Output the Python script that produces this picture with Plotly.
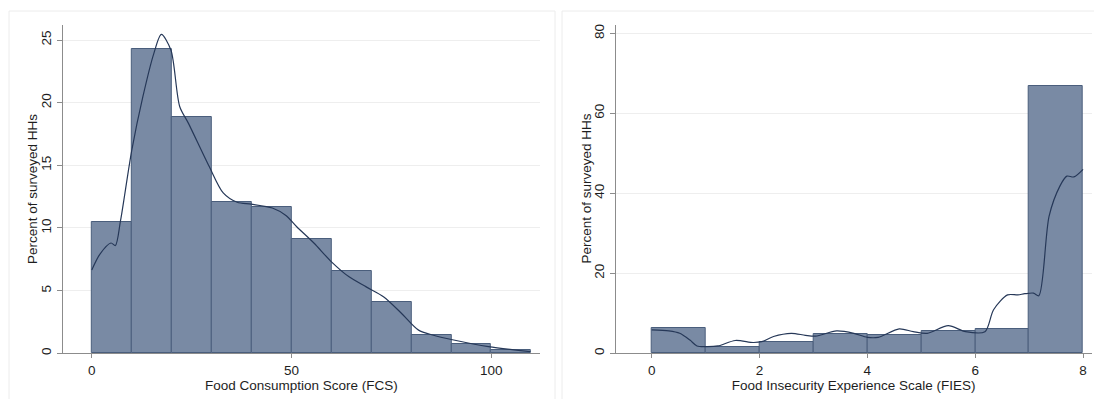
import plotly.graph_objects as go

# ---- Left panel: Food Consumption Score ----
fcs_bin_left = [0, 10, 20, 30, 40, 50, 60, 70, 80, 90, 100]
fcs_bin_width = 10
fcs_percent = [10.45, 24.25, 18.85, 12.05, 11.65, 9.1, 6.55, 4.1, 1.45, 0.75, 0.3]

fcs_kde_x = [0, 2, 4.8, 5.9, 7.2, 10, 12.8, 15.5, 17.4, 19.8, 22, 24.2, 29.4, 32.9,
             36.4, 39.9, 45.2, 48.6, 51.3, 55.6, 60, 64.4, 68.7, 73.1, 77.5, 81.8,
             85.3, 90.6, 99.3, 109.8]
fcs_kde_y = [6.65, 7.9, 8.8, 8.6, 10.6, 16.2, 20.5, 23.9, 25.45, 24.2, 19.7, 18.35,
             14.9, 12.8, 12.05, 11.9, 11.6, 11.0, 10.1, 8.8, 7.3, 6.1, 5.3, 4.5, 3.2,
             1.85, 1.46, 1.06, 0.53, 0.13]

# ---- Right panel: Food Insecurity Experience Scale ----
fies_bin_left = [0, 1, 2, 3, 4, 5, 6, 7]
fies_bin_width = 1
fies_percent = [6.3, 1.7, 2.9, 4.75, 4.6, 5.6, 6.1, 66.9]

fies_kde_x = [0, 0.32, 0.52, 0.71, 0.84, 1.0, 1.23, 1.55, 1.88, 2.04, 2.26, 2.59,
              2.85, 3.04, 3.43, 3.75, 4.0, 4.2, 4.59, 4.85, 5.11, 5.5, 5.82, 6.18,
              6.34, 6.6, 6.79, 6.92, 7.08, 7.18, 7.37, 7.57, 7.7, 7.83, 8.0]
fies_kde_y = [5.85, 5.6, 5.0, 3.3, 1.84, 1.67, 1.84, 3.2, 2.7, 2.9, 4.2, 5.0,
              4.5, 4.3, 5.6, 5.0, 4.0, 4.0, 6.1, 5.4, 5.0, 6.9, 5.4, 5.4,
              10.9, 14.6, 14.6, 14.9, 15.05, 14.4, 34.3, 41.8, 44.3, 44.1, 46.0]

fcs_ticks = [0, 50, 100]
fcs_yticks = [0, 5, 10, 15, 20, 25]
fies_ticks = [0, 2, 4, 6, 8]
fies_yticks = [0, 20, 40, 60, 80]

x_title_left = "Food Consumption Score (FCS)"
x_title_right = "Food Insecurity Experience Scale (FIES)"
y_title = "Percent of surveyed HHs"

BAR_FILL = "rgb(121,138,164)"
BAR_EDGE = "rgb(74,94,124)"
LINE_COL = "rgb(38,56,88)"
AXIS_COL = "rgb(140,140,140)"
GRID_COL = "rgb(238,238,238)"
TEXT_COL = "#1e1e1e"
FONT = "Liberation Sans, Arial, Helvetica, sans-serif"
FS = 13.5

W, H = 1094, 399

fig = go.Figure()

fig.add_trace(go.Bar(
    x=[l + fcs_bin_width / 2 for l in fcs_bin_left], y=fcs_percent, width=fcs_bin_width,
    marker=dict(color=BAR_FILL, line=dict(color=BAR_EDGE, width=1)),
    xaxis="x", yaxis="y", showlegend=False, hoverinfo="skip"))
fig.add_trace(go.Scatter(
    x=fcs_kde_x, y=fcs_kde_y, mode="lines", line=dict(color=LINE_COL, width=1.2, shape="spline", smoothing=0.8),
    xaxis="x", yaxis="y", showlegend=False, hoverinfo="skip"))

fig.add_trace(go.Bar(
    x=[l + fies_bin_width / 2 for l in fies_bin_left], y=fies_percent, width=fies_bin_width,
    marker=dict(color=BAR_FILL, line=dict(color=BAR_EDGE, width=1)),
    xaxis="x2", yaxis="y2", showlegend=False, hoverinfo="skip"))
fig.add_trace(go.Scatter(
    x=fies_kde_x, y=fies_kde_y, mode="lines", line=dict(color=LINE_COL, width=1.2, shape="spline", smoothing=0.8),
    xaxis="x2", yaxis="y2", showlegend=False, hoverinfo="skip"))

def px_x(p):
    return p / W

def px_y(p):
    return 1 - p / H

ydom = [px_y(353.3), px_y(25)]

common_x = dict(showgrid=False, zeroline=False, showline=True, linecolor=AXIS_COL, linewidth=1.2,
                ticks="outside", ticklen=4, tickcolor=AXIS_COL, tickwidth=1, automargin=False,
                tickfont=dict(family=FONT, size=FS, color=TEXT_COL),
                title_font=dict(family=FONT, size=FS, color=TEXT_COL), title_standoff=1)
common_y = dict(showgrid=True, gridcolor=GRID_COL, gridwidth=1, zeroline=False, showline=True,
                linecolor=AXIS_COL, linewidth=1.2, ticks="outside", ticklen=5, tickcolor=AXIS_COL,
                tickwidth=1, tickangle=-90, automargin=False,
                tickfont=dict(family=FONT, size=FS, color=TEXT_COL))

fig.update_layout(
    width=W, height=H, margin=dict(l=0, r=0, t=0, b=0),
    paper_bgcolor="white", plot_bgcolor="white", bargap=0,
    xaxis=dict(domain=[px_x(62.8), px_x(540)], range=[-7.26, 112.2], anchor="y",
               tickvals=fcs_ticks, title_text=x_title_left, **common_x),
    yaxis=dict(domain=ydom, range=[0, 26.2], anchor="x",
               tickvals=fcs_yticks, **common_y),
    xaxis2=dict(domain=[px_x(615.7), px_x(1091.7)], range=[-0.667, 8.16], anchor="y2",
                tickvals=fies_ticks, title_text=x_title_right, **common_x),
    yaxis2=dict(domain=ydom, range=[0, 82.1], anchor="x2",
                tickvals=fies_yticks, **common_y),
    font=dict(family=FONT, size=FS, color=TEXT_COL),
)

# y-axis titles
for xc in (33, 586.5):
    fig.add_annotation(text=y_title, xref="paper", yref="paper", x=px_x(xc), y=px_y(189),
                       xanchor="center", yanchor="middle", textangle=-90, showarrow=False,
                       font=dict(family=FONT, size=FS, color=TEXT_COL))

# faint panel frames
fig.add_shape(type="rect", xref="paper", yref="paper", x0=px_x(9), x1=px_x(555), y0=-0.05, y1=px_y(11),
              line=dict(color="rgb(236,236,236)", width=1), fillcolor="rgba(0,0,0,0)", layer="below")
fig.add_shape(type="rect", xref="paper", yref="paper", x0=px_x(562), x1=1.05, y0=-0.05, y1=px_y(11),
              line=dict(color="rgb(236,236,236)", width=1), fillcolor="rgba(0,0,0,0)", layer="below")

fig.write_html("out.html", config={"displayModeBar": False},
               post_script="document.body.style.margin='0';document.body.style.overflow='hidden';")
